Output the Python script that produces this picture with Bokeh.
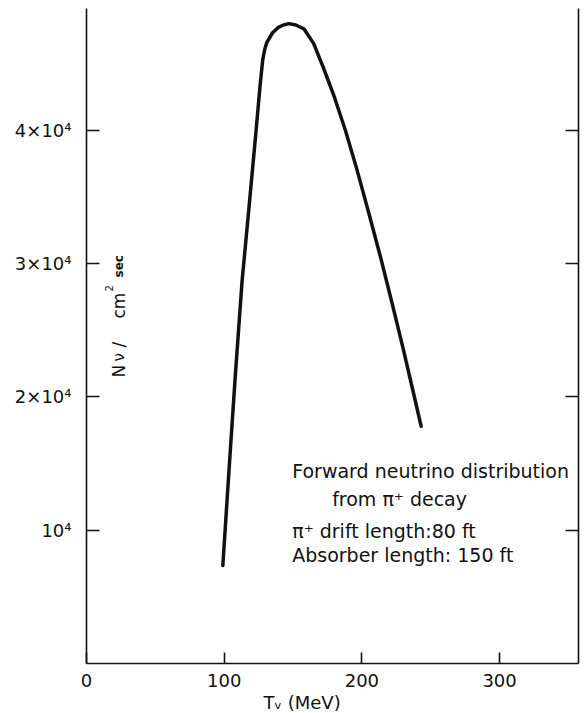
import math
from bokeh.plotting import figure
from bokeh.models import LinearAxis, FixedTicker, Label, Range1d, Title
from bokeh.embed import file_html
from bokeh.resources import INLINE

# Neutrino kinetic energy T_nu (MeV) and forward flux N_nu (per cm^2 sec)
energy_mev = [99, 104, 108, 113, 118, 123, 126, 128, 129.5, 131, 135, 139, 143, 147,
              152, 158, 165, 172, 180, 188, 196, 205, 214, 222, 230, 237, 243]
flux = [7350, 15300, 21500, 28700, 34200, 39800, 43300, 45300, 46100, 46600,
        47300, 47700, 47900, 48000, 47900, 47600, 46500, 44700, 42500, 40000,
        37200, 33800, 30300, 27000, 23600, 20500, 17800]

x_ticks = [0, 100, 200, 300]
x_tick_labels = ["0", "100", "200", "300"]
y_ticks = [10000, 20000, 30000, 40000]
y_tick_labels = ["10⁴", "2×10⁴", "3×10⁴", "4×10⁴"]

x_title = "Tᵥ (MeV)"
caption_lines = ["Forward neutrino distribution", "from π⁺ decay",
                 "π⁺ drift length:80 ft", "Absorber length: 150 ft"]

FONT = "DejaVu Sans"
INK = "#111111"

p = figure(width=584, height=713,
           x_range=Range1d(0, 357.3), y_range=Range1d(0, 49137),
           output_backend="svg", toolbar_location=None,
           x_axis_type=None, y_axis_type=None,
           min_border_left=86, min_border_right=6,
           min_border_top=8, min_border_bottom=50)
p.outline_line_color = None
for g in p.grid:
    g.visible = False

def style_axis(ax, tick_len):
    ax.axis_line_color = INK
    ax.axis_line_width = 1.6
    ax.major_tick_line_color = INK
    ax.major_tick_line_width = 1.6
    ax.major_tick_in = tick_len
    ax.major_tick_out = 0
    ax.minor_tick_line_color = None
    ax.major_label_text_font = FONT
    ax.major_label_text_font_size = "18px"
    ax.major_label_text_color = INK

xaxis = LinearAxis(ticker=FixedTicker(ticks=x_ticks),
                   major_label_overrides=dict(zip(x_ticks, x_tick_labels)))
style_axis(xaxis, 11)
xaxis.major_label_standoff = 10
p.add_layout(xaxis, "below")

p.add_layout(Title(text=x_title, align="left", offset=177, standoff=0,
                   text_font=FONT, text_font_size="18px", text_font_style="normal",
                   text_color=INK), "below")

yaxis = LinearAxis(ticker=FixedTicker(ticks=y_ticks),
                   major_label_overrides=dict(zip(y_ticks, y_tick_labels)))
style_axis(yaxis, 13)
yaxis.major_label_standoff = 15
p.add_layout(yaxis, "left")

raxis = LinearAxis(ticker=FixedTicker(ticks=y_ticks),
                   major_label_overrides={t: "" for t in y_ticks})
style_axis(raxis, 13)
raxis.major_label_standoff = 0
p.add_layout(raxis, "right")

p.line(energy_mev, flux, line_color=INK, line_width=3.5, line_join="round", line_cap="round")

# caption block
cap_pos = [(149.4, 14475), (178.4, 12305), (149.4, 9905), (149.4, 8175)]
for (cx, cy), txt in zip(cap_pos, caption_lines):
    p.add_layout(Label(x=cx, y=cy, text=txt, text_font=FONT, text_font_size="19px",
                       text_color=INK, text_align="left", text_baseline="alphabetic"))

# y axis title: N_nu / cm^2 sec (rotated, inside frame)
ang = math.pi / 2
ypieces = [
    (23.9, 21455, "N", "17px", "normal"),
    (23.9, 22655, "ν", "15px", "normal"),
    (23.9, 23706, "/", "17px", "normal"),
    (23.9, 25881, "cm", "17px", "normal"),
    (16.4, 27907, "2", "10px", "normal"),
    (23.9, 28957, "sec", "12px", "bold"),
]
for px_, py_, txt, fs, fw in ypieces:
    p.add_layout(Label(x=px_, y=py_, text=txt, angle=ang, text_font=FONT,
                       text_font_size=fs, text_font_style=fw, text_color=INK,
                       text_align="left", text_baseline="alphabetic"))

open("out.html", "w").write(file_html(p, INLINE))
